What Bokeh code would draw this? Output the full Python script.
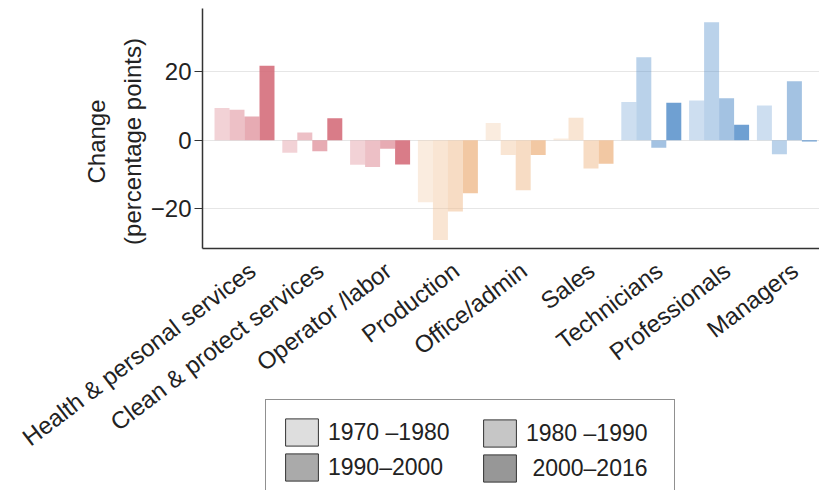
import math
from bokeh.plotting import figure
from bokeh.models import (ColumnDataSource, FixedTicker, Legend, LegendItem, Range1d,
                          LinearAxis)
from bokeh.transform import dodge
from bokeh.core.properties import value
from bokeh.embed import file_html
from bokeh.resources import INLINE

# ---------------- data ----------------
categories = ["Health & personal services", "Clean & protect services", "Operator /labor",
              "Production", "Office/admin", "Sales", "Technicians", "Professionals", "Managers"]
periods = ["1970 –1980", "1980 –1990", "1990–2000", " 2000–2016"]
change_1970_1980 = [9.4, -3.7, -7.2, -18.1, 5.0, 0.5, 11.1, 11.6, 10.1]
change_1980_1990 = [8.9, 2.2, -7.8, -29.1, -4.3, 6.5, 24.2, 34.4, -4.1]
change_1990_2000 = [6.9, -3.2, -2.5, -20.8, -14.6, -8.3, -2.2, 12.2, 17.2]
change_2000_2016 = [21.7, 6.4, -7.1, -15.5, -4.3, -6.9, 10.9, 4.5, -0.4]
y_ticks = [-20, 0, 20]
y_tick_labels = ["\u221220", "0", "20"]
y_axis_label = "Change\n(percentage points)"
y_axis_min, y_axis_max = -31.6, 38.4

# ---------------- styles / layout ----------------
category_colors = ["#d46a78", "#d46a78", "#d46a78",
                   "#f0c096", "#f0c096", "#f0c096",
                   "#5b93cc", "#5b93cc", "#5b93cc"]
period_alphas = [0.30, 0.42, 0.56, 0.88]
legend_grays = ["#dedede", "#c6c6c6", "#aaaaaa", "#979797"]
FONT = "Liberation Sans"
TXT = "#222222"
AXC = "#333333"

W, H = 819, 490
group_px = 67.8          # pixel distance between category centres
first_center_px = 244.0  # pixel x of first category centre
axis_px = 202.0          # pixel x of value axis
top_px = 8.0             # pixel y of value-axis top
data_px = 240.0          # pixel height of value axis
ppu = data_px / (y_axis_max - y_axis_min)

x_start = -first_center_px / group_px
x_end = (W - first_center_px) / group_px
x_axis_left = (axis_px - first_center_px) / group_px
y_top = y_axis_max + top_px / ppu
y_bottom = y_axis_max - (H - top_px) / ppu

series = [change_1970_1980, change_1980_1990, change_1990_2000, change_2000_2016]
bar_w = 0.2212
offsets = [-1.5 * bar_w, -0.5 * bar_w, 0.5 * bar_w, 1.5 * bar_w]

p = figure(width=W, height=H, output_backend="svg", toolbar_location=None,
           x_axis_location=None,
           x_range=Range1d(x_start, x_end), y_range=Range1d(y_bottom, y_top),
           min_border_left=0, min_border_right=0, min_border_top=0, min_border_bottom=0)
p.outline_line_color = None
p.background_fill_color = "white"
p.border_fill_color = "white"

xs = list(range(len(categories)))
for i, vals in enumerate(series):
    src = ColumnDataSource(dict(x=xs, top=vals, color=category_colors))
    p.vbar(x=dodge("x", offsets[i], range=p.x_range), top="top", bottom=0, width=bar_w,
           source=src, fill_color="color", fill_alpha=period_alphas[i], line_color=None)

# grid (only to the right of the value axis)
p.xgrid.visible = False
p.ygrid.ticker = FixedTicker(ticks=y_ticks)
p.ygrid.grid_line_color = "#e6e6e6"
p.ygrid.grid_line_width = 1
p.ygrid.level = "underlay"
p.ygrid.cross_bounds = (x_axis_left, x_end)

# category axis: line only (fixed in data space), labels drawn as rotated text
xa = LinearAxis(fixed_location=y_axis_min, bounds=(x_axis_left, x_end),
                ticker=FixedTicker(ticks=[]), axis_line_color=AXC, axis_line_width=1.5,
                major_tick_line_color=None, minor_tick_line_color=None,
                major_label_text_font_size="0px")
p.add_layout(xa, "below")

lab_src = ColumnDataSource(dict(x=xs, y=[y_axis_min] * len(xs), text=categories))
p.text(x="x", y="y", text="text", source=lab_src, angle=0.65,
       text_align="right", text_baseline="middle", x_offset=8, y_offset=19,
       text_font=value(FONT), text_font_size="24px", text_color=TXT)

# value axis (fixed in data space)
ya = p.yaxis[0]
ya.fixed_location = x_axis_left
ya.bounds = (y_axis_min, y_axis_max)
ya.ticker = FixedTicker(ticks=y_ticks)
ya.major_label_overrides = {t: l for t, l in zip(y_ticks, y_tick_labels)}
ya.minor_tick_line_color = None
ya.major_tick_in = 0
ya.major_tick_out = 8
ya.major_tick_line_color = AXC
ya.major_tick_line_width = 1.2
ya.axis_line_color = AXC
ya.axis_line_width = 1.5
ya.major_label_standoff = 3
ya.major_label_text_font = FONT
ya.major_label_text_font_size = "24px"
ya.major_label_text_color = TXT

# value-axis title
ttl_src = ColumnDataSource(dict(x=[x_axis_left], y=[(y_axis_min + y_axis_max) / 2], text=[y_axis_label]))
p.text(x="x", y="y", text="text", source=ttl_src, angle=math.pi / 2,
       text_align="center", text_baseline="middle", x_offset=-88, y_offset=13,
       text_line_height=1.35,
       text_font=value(FONT), text_font_size="24px", text_color=TXT)

# legend (gray swatches): two columns, first carries the frame
nan = float("nan")
rends = []
for i in range(len(periods)):
    rends.append(p.vbar(x=[nan], top=[nan], width=0.1, fill_color=legend_grays[i],
                        line_color=AXC, line_width=1))

common = dict(orientation="vertical", glyph_width=41, glyph_height=34, label_standoff=6,
              spacing=1, padding=15, margin=0, label_height=34,
              label_text_font=FONT, label_text_font_size="23px", label_text_color=TXT)
leg_a = Legend(items=[LegendItem(label=periods[0], renderers=[rends[0]]),
                      LegendItem(label=periods[2], renderers=[rends[2]])],
               location=(265, -10), label_width=331,
               border_line_color="#222222", border_line_width=1.2,
               background_fill_color="white", background_fill_alpha=1.0, **common)
leg_b = Legend(items=[LegendItem(label=periods[1], renderers=[rends[1]]),
                      LegendItem(label=periods[3], renderers=[rends[3]])],
               location=(464, -10), label_width=100,
               border_line_color="white", border_line_alpha=0.0,
               background_fill_alpha=0.0, **common)
p.add_layout(leg_a, "center")
p.add_layout(leg_b, "center")

open("out.html", "w").write(file_html(p, INLINE))
